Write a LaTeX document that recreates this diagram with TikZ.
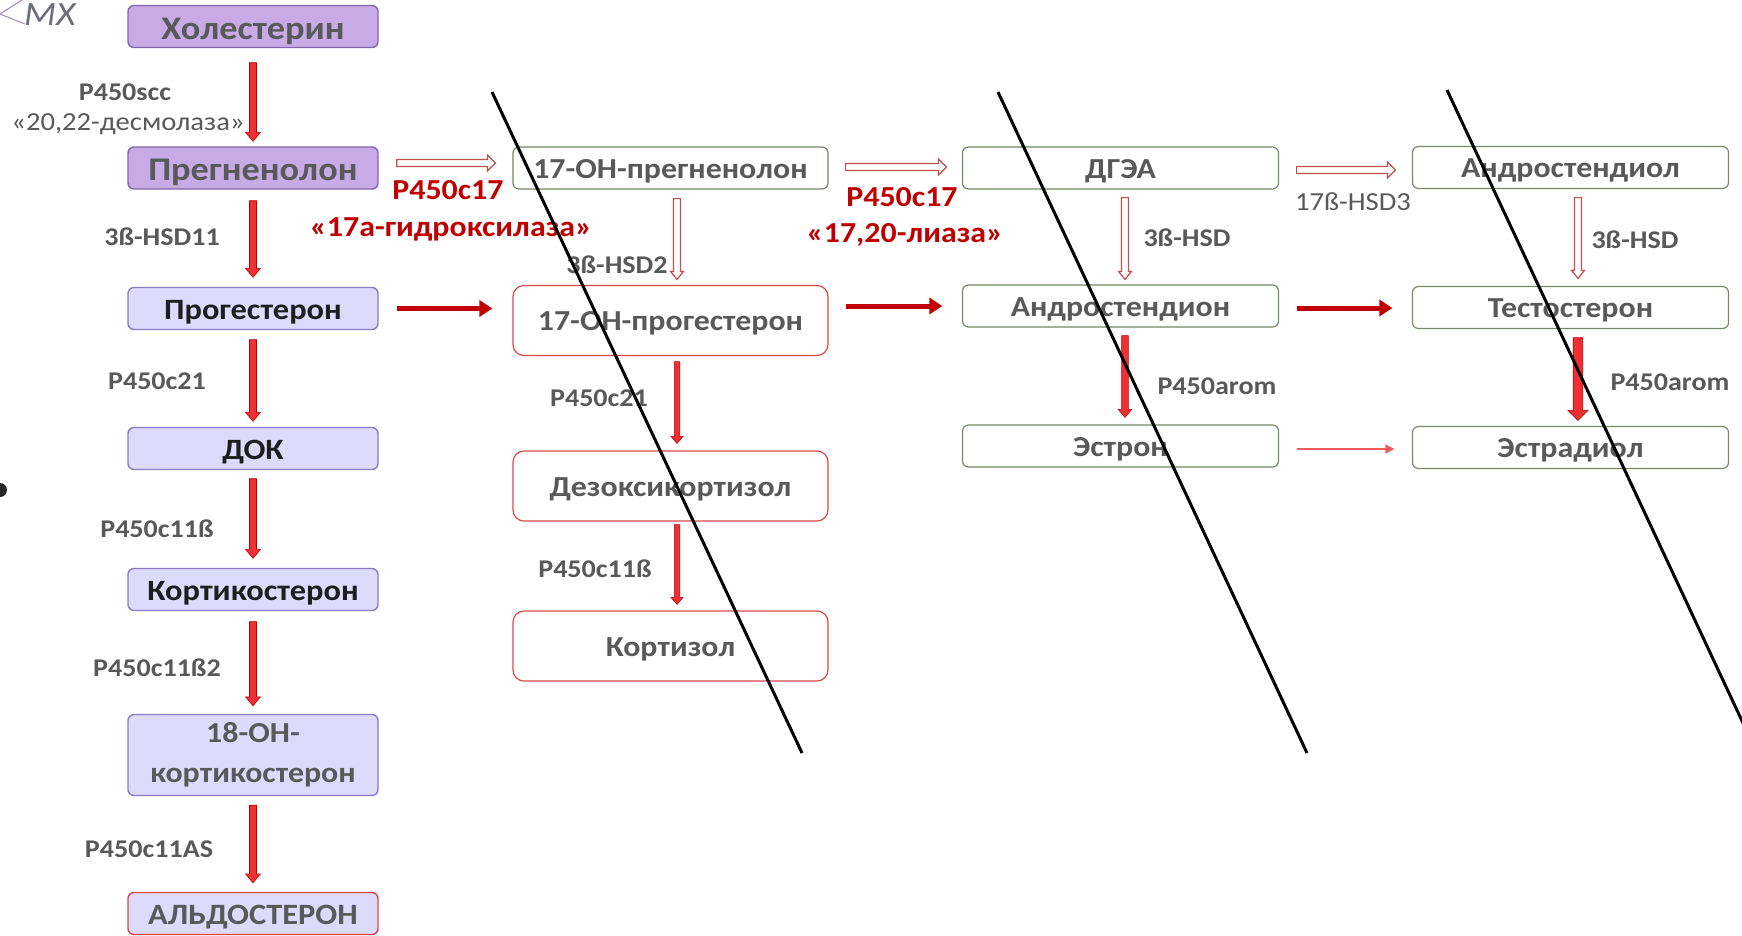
\documentclass[tikz,border=0pt]{standalone}
\usepackage{fontspec}
\setmainfont{Carlito}[FakeStretch=1.1]
\usetikzlibrary{calc,arrows.meta}

\definecolor{txtgray}{HTML}{595959}
\definecolor{txtdark}{HTML}{1E1E1E}
\definecolor{purpfill}{HTML}{C8AAE6}
\definecolor{purpline}{HTML}{8465B0}
\definecolor{lavfill}{HTML}{DDDAFC}
\definecolor{lavline}{HTML}{8C7BC4}
\definecolor{oliveline}{HTML}{768A66}
\definecolor{boxred}{HTML}{D9474A}
\definecolor{arrred}{HTML}{EE3035}
\definecolor{arrdark}{HTML}{C00000}
\definecolor{hollowred}{HTML}{C0504D}
\definecolor{thinred}{HTML}{F25C5C}
\definecolor{markgray}{HTML}{6E6E78}

\newcommand\bxfont{\bfseries\fontsize{33}{38}\selectfont}
\newcommand\lavfont{\bfseries\fontsize{29.5}{34}\selectfont}
\newcommand\midfont{\bfseries\fontsize{29}{33}\selectfont}
\newcommand\lblfont{\bfseries\fontsize{25.5}{29}\selectfont}
\newcommand\lblregfont{\fontsize{26}{29}\selectfont}
\newcommand\redlblfont{\bfseries\fontsize{29}{33}\selectfont}

\tikzset{
  % downward block arrow: shaft half-width, head half-width, head length
  vblock/.style n args={3}{to path={let \p1=(\tikztostart), \p2=(\tikztotarget) in
    (\x1-#1,\y1) -- (\x1-#1,\y2+#3) -- (\x1-#2,\y2+#3) -- (\x1,\y2)
    -- (\x1+#2,\y2+#3) -- (\x1+#1,\y2+#3) -- (\x1+#1,\y1) -- cycle}},
  % rightward block arrow
  hblock/.style n args={3}{to path={let \p1=(\tikztostart), \p2=(\tikztotarget) in
    (\x1,\y1+#1) -- (\x2-#3,\y1+#1) -- (\x2-#3,\y1+#2) -- (\x2,\y1)
    -- (\x2-#3,\y1-#2) -- (\x2-#3,\y1-#1) -- (\x1,\y1-#1) -- cycle}},
  redblock/.style={fill=arrred, draw=arrdark, line width=0.6pt, line join=miter},
  hollow/.style={fill=white, draw=hollowred, line width=1.2pt, line join=miter},
  darkarrow/.style={draw=arrdark, line width=5pt, -{Triangle[width=16pt,length=13pt]}},
  thinarrow/.style={draw=thinred, line width=1.6pt, -{Triangle[width=9pt,length=9pt]}},
  basebox/.style={rounded corners=6pt, line width=1.4pt, align=center, inner sep=0pt},
  bigline/.style={text height=25pt, text depth=0pt},
  lavline/.style={text height=22pt, text depth=0pt},
  midline/.style={text height=20.5pt, text depth=0pt},
  purpbox/.style={basebox, bigline, fill=purpfill, draw=purpline, minimum width=250pt, minimum height=42pt, font=\bxfont, text=txtgray},
  lavbase/.style={basebox, fill=lavfill, draw=lavline, minimum width=250pt, minimum height=42pt, font=\lavfont, text=txtdark},
  lavbox/.style={lavbase, lavline},
  greenbox/.style={basebox, midline, fill=white, draw=oliveline, line width=1.2pt, minimum width=316pt, minimum height=42pt, font=\midfont, text=txtgray},
  redbox/.style={basebox, midline, fill=white, draw=boxred, line width=1.2pt, rounded corners=11pt, minimum width=315pt, minimum height=70pt, font=\midfont, text=txtgray},
  lbl/.style={font=\lblfont, text=txtgray, inner sep=0pt},
  redlbl/.style={font=\redlblfont, text=arrdark, inner sep=0pt},
  slash/.style={draw=black, line width=3pt},
}

\begin{document}
\begin{tikzpicture}[x=1pt,y=-1pt]
\useasboundingbox (0,0) rectangle (1742,935);
\fill[white] (0,0) rectangle (1742,935);

% corner mark and bullet
\draw[draw=purpline!80, line width=1pt] (22,0) -- (0,14) -- (25,24);
\node[anchor=base west, font=\itshape\fontsize{34}{38}\selectfont, text=markgray, inner sep=0pt] (mark) at (24,25) {МХ};
\fill[black!85] (0,490) circle (7pt);

% left column: glucocorticoid / mineralocorticoid line
\node[purpbox] (chol) at (253,26.5) {Холестерин};
\node[purpbox] (preg) at (253,168) {Прегненолон};
\node[lavbox] (prog) at (253,308.5) {Прогестерон};
\node[lavbox] (dok) at (253,448.5) {ДОК};
\node[lavbox] (cort) at (253,589.5) {Кортикостерон};
\node[lavbase, text=txtgray, minimum height=81pt, font=\bfseries\fontsize{29}{40}\selectfont] (oh18) at (253,755) {18-ОН-\\кортикостерон};
\node[lavbox, draw=boxred, text=txtgray] (aldo) at (253,913.5) {АЛЬДОСТЕРОН};

% second column
\node[greenbox, minimum width=315pt] (ohpreg) at (670.5,168) {17-ОН-прегненолон};
\node[redbox] (ohprog) at (670.5,320.5) {17-ОН-прогестерон};
\node[redbox] (dezoxy) at (670.5,486) {Дезоксикортизол};
\node[redbox] (cortisol) at (670.5,646) {Кортизол};

% third column
\node[greenbox] (dhea) at (1120.5,168) {ДГЭА};
\node[greenbox] (andr) at (1120.5,306) {Андростендион};
\node[greenbox] (estrone) at (1120.5,446) {Эстрон};

% fourth column
\node[greenbox] (adiol) at (1570.5,167.5) {Андростендиол};
\node[greenbox] (testo) at (1570.5,307.5) {Тестостерон};
\node[greenbox] (estradiol) at (1570.5,447.5) {Эстрадиол};

% left column arrows
\draw[redblock, vblock={3.5pt}{7.5pt}{9pt}] ($(chol.south)+(0,14.5)$) to ($(preg.north)+(0,-5)$);
\draw[redblock, vblock={3.5pt}{7.5pt}{9pt}] ($(preg.south)+(0,11)$) to ($(prog.north)+(0,-9.5)$);
\draw[redblock, vblock={3.5pt}{7.5pt}{9pt}] ($(prog.south)+(0,9.5)$) to ($(dok.north)+(0,-5.5)$);
\draw[redblock, vblock={3.5pt}{7.5pt}{9pt}] ($(dok.south)+(0,8.5)$) to ($(cort.north)+(0,-9.5)$);
\draw[redblock, vblock={3.5pt}{7.5pt}{9pt}] ($(cort.south)+(0,10.5)$) to ($(oh18.north)+(0,-8)$);
\draw[redblock, vblock={3.5pt}{7.5pt}{9pt}] ($(oh18.south)+(0,9)$) to ($(aldo.north)+(0,-9)$);

% left column enzyme labels
\node[lbl] (lscc) at (125,92) {P450scc};
\node[lbl, font=\lblregfont] (ldesm) at (128,124) {«20,22-десмолаза»};
\node[lbl] (lhsd11) at (162,237) {3ß-HSD11};
\node[lbl] (lc21a) at (157,381) {P450c21};
\node[lbl] (lc11a) at (157,529) {P450c11ß};
\node[lbl] (lc112) at (157,668) {P450c11ß2};
\node[lbl] (lc11as) at (149,849) {P450c11AS};

% second column arrows
\draw[hollow, hblock={3.5pt}{8pt}{8pt}] ($(preg.east)+(18,-5)$) to ($(ohpreg.west)+(-17,-5)$);
\draw[hollow, vblock={3.5pt}{6.5pt}{8pt}] ($(ohpreg.south)+(6.5,9)$) to ($(ohprog.north)+(6.5,-5.5)$);
\draw[darkarrow] ($(prog.east)+(18,0)$) -- ($(prog.east -| ohprog.west)+(-20,0)$);
\draw[redblock, vblock={2.7pt}{6pt}{7pt}] ($(ohprog.south)+(6.5,5.5)$) to ($(dezoxy.north)+(6.5,-7)$);
\draw[redblock, vblock={2.7pt}{6pt}{7pt}] ($(dezoxy.south)+(6.5,3)$) to ($(cortisol.north)+(6.5,-6)$);

\node[redlbl] (l17a) at (448,190) {P450c17};
\node[redlbl] (l17b) at (451,229) {«17а-гидроксилаза»};
\node[lbl] (lhsd2) at (617,265) {3ß-HSD2};
\node[lbl] (lc21b) at (599,398) {P450c21};
\node[lbl] (lc11b) at (595,569) {P450c11ß};

% third column arrows
\draw[hollow, hblock={3.5pt}{8pt}{8pt}] ($(ohpreg.east)+(17,-1)$) to ($(dhea.west)+(-15.5,-1)$);
\draw[hollow, vblock={3.5pt}{6.5pt}{8pt}] ($(dhea.south)+(4.5,8)$) to ($(andr.north)+(4.5,-5)$);
\draw[darkarrow] ($(ohprog.east |- andr.west)+(17,0)$) -- ($(andr.west)+(-19.5,0)$);
\draw[redblock, vblock={3.3pt}{6.7pt}{8pt}] ($(andr.south)+(4.5,8)$) to ($(estrone.north)+(4.5,-7)$);

\node[redlbl] (l17c) at (902,197) {P450c17};
\node[redlbl] (l17d) at (905,235) {«17,20-лиаза»};
\node[lbl] (lhsd3a) at (1187,238) {3ß-HSD};
\node[lbl] (larom1) at (1217,386) {P450arom};

% fourth column arrows
\draw[hollow, hblock={3.5pt}{8pt}{8pt}] ($(dhea.east)+(17.5,2)$) to ($(adiol.west)+(-16.5,2.5)$);
\draw[hollow, vblock={3.5pt}{6.5pt}{8pt}] ($(adiol.south)+(7.5,8.5)$) to ($(testo.north)+(7.5,-7.5)$);
\draw[darkarrow] ($(andr.east)+(17.5,2)$) -- ($(andr.east -| testo.west)+(-19.5,2)$);
\draw[redblock, vblock={4.8pt}{10pt}{10pt}] ($(testo.south)+(7.5,8.5)$) to ($(estradiol.north)+(7.5,-5.5)$);
\draw[thinarrow] ($(estrone.east)+(17.5,3)$) -- ($(estrone.east -| estradiol.west)+(-17.5,3)$);

\node[lbl, font=\lblregfont] (l17hsd) at (1353,202) {17ß-HSD3};
\node[lbl] (lhsd3b) at (1635,240) {3ß-HSD};
\node[lbl] (larom2) at (1670,382) {P450arom};

% strike-through lines over the three right-hand columns
\coordinate (s1a) at (492,92);   \coordinate (s1b) at (802,753);
\coordinate (s2a) at (998,92);   \coordinate (s2b) at (1307,753);
\coordinate (s3a) at (1447,90);  \coordinate (s3b) at (1757,753);
\draw[slash] (s1a) -- (s1b);
\draw[slash] (s2a) -- (s2b);
\draw[slash] (s3a) -- (s3b);
\end{tikzpicture}
\end{document}
